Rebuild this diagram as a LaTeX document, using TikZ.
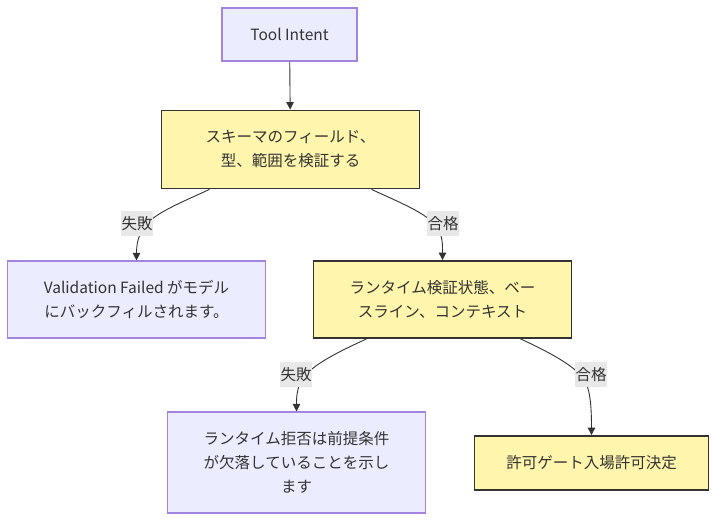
\documentclass[tikz,border=0pt]{standalone}
\usepackage{fontspec}
\setmainfont{Noto Sans CJK JP}
\usetikzlibrary{arrows.meta}
\definecolor{purplefill}{HTML}{ECECFF}
\definecolor{purpleline}{HTML}{9370DB}
\definecolor{yellowfill}{HTML}{FFF5AD}
\definecolor{darkline}{HTML}{333333}
\definecolor{lblfill}{HTML}{E8E8E8}
\tikzset{
  base/.style={rectangle, align=center, font=\fontsize{15.5}{24}\selectfont, text=darkline, inner sep=0pt},
  purplebox/.style={base, fill=purplefill, draw=purpleline!85, line width=1.1pt},
  yellowbox/.style={base, fill=yellowfill, draw=darkline, line width=1.8pt},
  lbl/.style={rectangle, fill=lblfill, text=darkline, font=\fontsize{15.5}{18}\selectfont, inner sep=0pt, minimum width=32pt, minimum height=25pt},
  edge/.style={draw=darkline, line width=0.9pt, -{Triangle[length=7.5pt,width=7.5pt]}}
}
\begin{document}
\begin{tikzpicture}[x=1pt,y=-1pt]
\useasboundingbox (0,0) rectangle (723,526);
% nodes
\node[purplebox, minimum width=135pt, minimum height=53pt] (intent) at (289.5,34.5) {Tool Intent};
\node[yellowbox, minimum width=258pt, minimum height=78pt] (v1) at (290.5,149.5) {スキーマのフィールド、\\型、範囲を検証する};
\node[purplebox, minimum width=258pt, minimum height=77pt] (fail1) at (136.5,299.5) {Validation Failed がモデル\\にバックフィルされます。};
\node[yellowbox, minimum width=258pt, minimum height=77pt] (v2) at (442.5,299.5) {ランタイム検証状態、ベー\\スライン、コンテキスト};
\node[purplebox, minimum width=258pt, minimum height=101pt] (rej) at (296.5,462.5) {ランタイム拒否は前提条件\\が欠落していることを示し\\ます};
\node[yellowbox, minimum width=234pt, minimum height=54pt] (permit) at (591.5,463) {許可ゲート入場許可決定};
% points where the connectors pass through their labels
\coordinate (p1) at (145,226);
\coordinate (p2) at (436,226);
\coordinate (p3) at (304,377);
\coordinate (p4) at (583,378);
% edges
\draw[edge] (intent) -- (v1);
\draw[edge] ([xshift=-81pt]v1.south) .. controls (180,203) and (155,213) .. (p1)
  .. controls (138,235) and (136.5,245) .. (fail1.north);
\draw[edge] ([xshift=81pt]v1.south) .. controls (401,203) and (426,213) .. (p2)
  .. controls (443,235) and (442.5,245) .. (v2.north);
\draw[edge] ([xshift=-76pt]v2.south) .. controls (338,352) and (314,364) .. (p3)
  .. controls (297,386) and (296.5,396) .. (rej.north);
\draw[edge] ([xshift=78pt]v2.south) .. controls (549,352) and (573,365) .. (p4)
  .. controls (590,387) and (591.5,405) .. (permit.north);
% labels
\node[lbl] (l1) at (137,224) {失敗};
\node[lbl] (l2) at (443,224) {合格};
\node[lbl] (l3) at (296,375) {失敗};
\node[lbl] (l4) at (591,375) {合格};
\end{tikzpicture}
\end{document}
